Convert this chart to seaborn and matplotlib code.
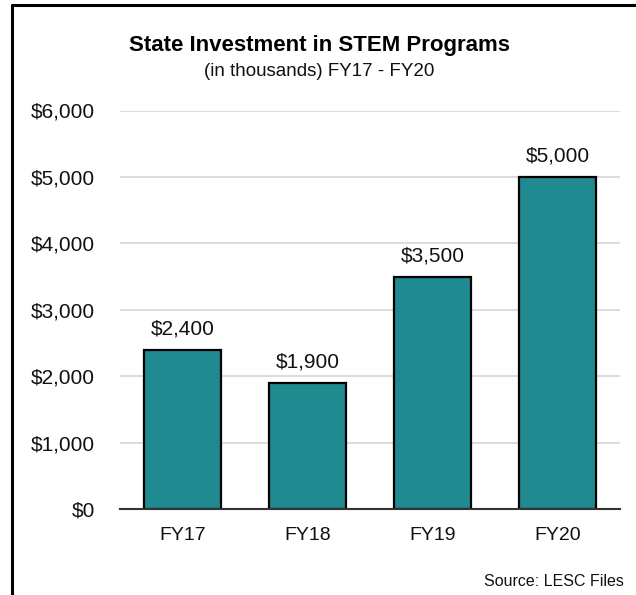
import matplotlib
matplotlib.use("Agg")
import matplotlib.pyplot as plt
from matplotlib.lines import Line2D
from matplotlib.ticker import FuncFormatter
import seaborn as sns
import pandas as pd

years = ["FY17", "FY18", "FY19", "FY20"]
investment = [2400, 1900, 3500, 5000]
y_ticks = [0, 1000, 2000, 3000, 4000, 5000, 6000]

title_text = "State Investment in STEM Programs"
subtitle_text = "(in thousands) FY17 - FY20"
source_text = "Source: LESC Files"

sns.set_theme(style="white")
plt.rcParams["font.family"] = ["Liberation Sans", "DejaVu Sans"]

df = pd.DataFrame({"year": years, "value": investment})

W, H = 636, 595
fig = plt.figure(figsize=(W / 100, H / 100), dpi=100)
ax = fig.add_axes([120 / W, 1 - 509 / H, 500 / W, (509 - 110.5) / H])

sns.barplot(data=df, x="year", y="value", color="#1F8A90", saturation=1,
            width=0.62, edgecolor="black", linewidth=1.6, ax=ax, zorder=3)

ax.set_ylim(0, 6000)
ax.set_xlim(-0.5, len(years) - 0.5)
ax.set_yticks(y_ticks)
ax.yaxis.set_major_formatter(FuncFormatter(lambda v, p: f"${v:,.0f}"))
ax.grid(axis="y", color="#D9D9D9", linewidth=1.3, zorder=0)
ax.grid(axis="x", visible=False)
ax.set_axisbelow(True)
for s in ["top", "right", "left"]:
    ax.spines[s].set_visible(False)
ax.spines["bottom"].set_color("#333333")
ax.spines["bottom"].set_linewidth(1.5)
ax.spines["bottom"].set_zorder(4)
ax.tick_params(axis="y", length=0, pad=18, labelsize=15, labelcolor="#111111")
ax.tick_params(axis="x", length=0, pad=13, labelsize=14, labelcolor="#111111")
ax.set_xlabel("")
ax.set_ylabel("")

for c in ax.containers:
    ax.bar_label(c, labels=[f"${v:,.0f}" for v in investment], padding=8,
                 fontsize=15, color="#111111")

fig.text(319 / W, 1 - 45 / H, title_text, ha="center", va="center",
         fontsize=16, fontweight="bold", color="black")
fig.text(319 / W, 1 - 71 / H, subtitle_text, ha="center", va="center",
         fontsize=13.5, color="#111111")
fig.text(624 / W, 1 - 581 / H, source_text, ha="right", va="center",
         fontsize=11.5, color="#111111")

fig.add_artist(Line2D([11.5 / W, 11.5 / W], [0, 1 - 4.5 / H], color="black",
                      linewidth=2.2, transform=fig.transFigure))
fig.add_artist(Line2D([11.5 / W, 1], [1 - 4.5 / H, 1 - 4.5 / H], color="black",
                      linewidth=2.2, transform=fig.transFigure))

fig.savefig("out.png", dpi=100)
